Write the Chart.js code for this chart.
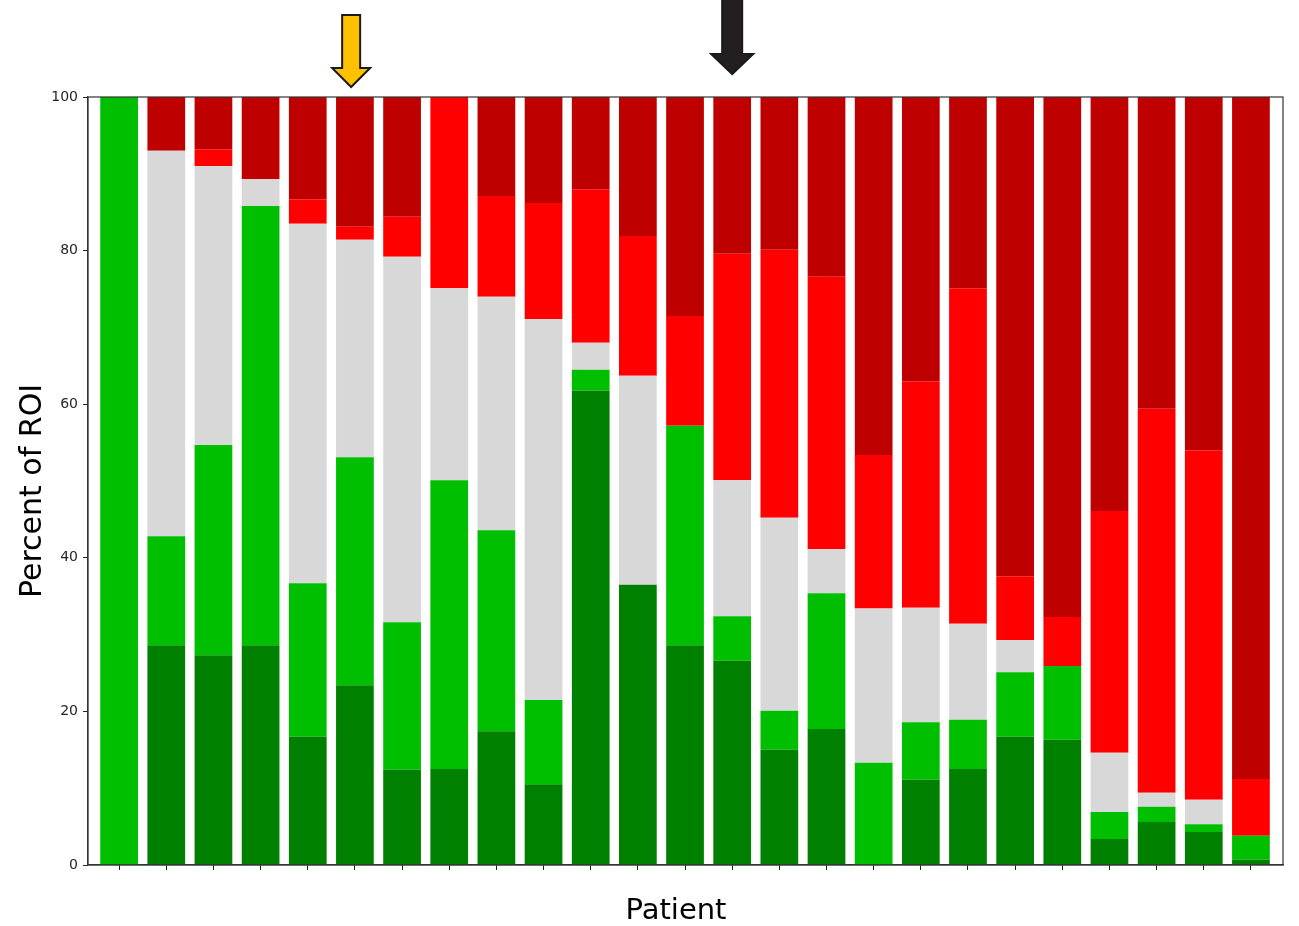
<!DOCTYPE html>
<html>
<head>
<meta charset="utf-8">
<script src="https://cdn.jsdelivr.net/npm/chart.js@4/dist/chart.umd.min.js"></script>
<style>
  html, body { margin: 0; padding: 0; background: #ffffff; }
  #wrap { width: 1299px; height: 926px; position: relative; }
</style>
</head>
<body>
<div id="wrap"><canvas id="c" width="1299" height="926"></canvas></div>
<script>
// ---- data (percent of ROI per patient, stacked bottom -> top) ----
const patients = Array.from({length: 25}, (_, i) => i);
const darkGreen = [0, 28.6, 27.3, 28.6, 16.7, 23.4, 12.4, 12.5, 17.4, 10.5, 61.8, 36.5, 28.6, 26.6, 15.0, 17.7, 0, 11.1, 12.5, 16.7, 16.3, 3.4, 5.6, 4.3, 0.7];
const green     = [100, 14.2, 27.4, 57.2, 20.0, 29.7, 19.2, 37.6, 26.2, 11.0, 2.7, 0, 28.6, 5.8, 5.1, 17.7, 13.3, 7.5, 6.4, 8.4, 9.6, 3.5, 2.0, 1.0, 3.1];
const gray      = [0, 50.2, 36.3, 3.5, 46.8, 28.3, 47.6, 25.0, 30.4, 49.6, 3.5, 27.2, 0, 17.7, 25.1, 5.7, 20.1, 14.9, 12.5, 4.2, 0, 7.7, 1.8, 3.2, 0];
const red       = [0, 0, 2.2, 0, 3.2, 1.7, 5.2, 24.9, 13.1, 15.1, 20.0, 18.2, 14.3, 29.5, 34.9, 35.5, 20.0, 29.5, 43.7, 8.3, 6.4, 31.5, 50.0, 45.5, 7.4];
const darkRed   = [0, 7.0, 6.8, 10.7, 13.3, 16.9, 15.6, 0, 12.9, 13.8, 12.0, 18.1, 28.5, 20.4, 19.9, 23.4, 46.6, 37.0, 24.9, 62.4, 67.7, 53.9, 40.6, 46.0, 88.8];
const yTicks = [0, 20, 40, 60, 80, 100];
const xTitle = 'Patient';
const yTitle = 'Percent of ROI';
// arrow annotations (position in patient index units)
const arrowAt = [4.92, 13];
const arrowFill = ['#FFC000', '#231F20'];

const seriesColors = ['#008000', '#00BF00', '#D8D8D8', '#FF0000', '#BF0000'];
const seriesData = [darkGreen, green, gray, red, darkRed];

const datasets = seriesData.map((arr, k) => ({
  data: arr.map((v, i) => ({x: patients[i], y: v})),
  backgroundColor: seriesColors[k],
  borderWidth: 0,
  barPercentage: 0.8,
  categoryPercentage: 1.0
}));

const FONT = "'DejaVu Sans', sans-serif";

const framePlugin = {
  id: 'frame',
  afterDraw(chart) {
    const ctx = chart.ctx;
    const a = chart.chartArea;
    ctx.save();
    ctx.strokeStyle = '#333333';
    ctx.lineWidth = 1.2;
    ctx.strokeRect(a.left, a.top, a.right - a.left, a.bottom - a.top);
    // axis titles
    ctx.fillStyle = '#000000';
    ctx.textAlign = 'center';
    ctx.textBaseline = 'alphabetic';
    ctx.font = "29px " + FONT;
    ctx.fillText(xTitle, 676, 919);
    ctx.save();
    ctx.translate(41, 491);
    ctx.rotate(-Math.PI / 2);
    ctx.font = "30px " + FONT;
    ctx.fillText(yTitle, 0, 0);
    ctx.restore();
    // arrows
    const xs = chart.scales.x;
    const geo = [
      {top: 15, base: 68, tip: 87, sw: 9, hw: 19},
      {top: -5, base: 54, tip: 74, sw: 10, hw: 21}
    ];
    arrowAt.forEach((v, i) => {
      const cx = xs.getPixelForValue(v);
      const g = geo[i];
      ctx.beginPath();
      ctx.moveTo(cx - g.sw, g.top);
      ctx.lineTo(cx + g.sw, g.top);
      ctx.lineTo(cx + g.sw, g.base);
      ctx.lineTo(cx + g.hw, g.base);
      ctx.lineTo(cx, g.tip);
      ctx.lineTo(cx - g.hw, g.base);
      ctx.lineTo(cx - g.sw, g.base);
      ctx.closePath();
      ctx.fillStyle = arrowFill[i];
      ctx.fill();
      ctx.lineWidth = 2;
      ctx.lineJoin = 'miter';
      ctx.strokeStyle = '#1a1a1a';
      ctx.stroke();
    });
    ctx.restore();
  }
};

new Chart(document.getElementById('c'), {
  type: 'bar',
  data: { datasets },
  options: {
    responsive: false,
    animation: false,
    layout: { padding: { left: 0, top: 97, right: 16, bottom: 0 } },
    plugins: { legend: { display: false }, tooltip: { enabled: false } },
    scales: {
      x: {
        type: 'linear',
        stacked: true,
        offset: false,
        min: -0.66,
        max: 24.68,
        afterFit: s => { s.height = 61; },
        afterBuildTicks: s => { s.ticks = patients.map(v => ({value: v})); },
        grid: { display: true, offset: false, drawOnChartArea: false, drawTicks: true, tickLength: 5, color: '#222222', lineWidth: 1 },
        border: { display: true, color: '#333333', width: 1.2 },
        ticks: { display: true, callback: () => '', font: { family: FONT, size: 14 } },
        title: { display: false }
      },
      y: {
        stacked: true,
        min: 0,
        max: 100,
        afterFit: s => { s.width = 88; },
        afterBuildTicks: s => { s.ticks = yTicks.map(v => ({value: v})); },
        grid: { display: true, drawOnChartArea: false, drawTicks: true, tickLength: 5, color: '#222222', lineWidth: 1 },
        border: { display: true, color: '#333333', width: 1.2 },
        ticks: { color: '#262626', padding: 5, font: { family: FONT, size: 14 } },
        title: { display: false }
      }
    }
  },
  plugins: [framePlugin]
});
</script>
</body>
</html>
